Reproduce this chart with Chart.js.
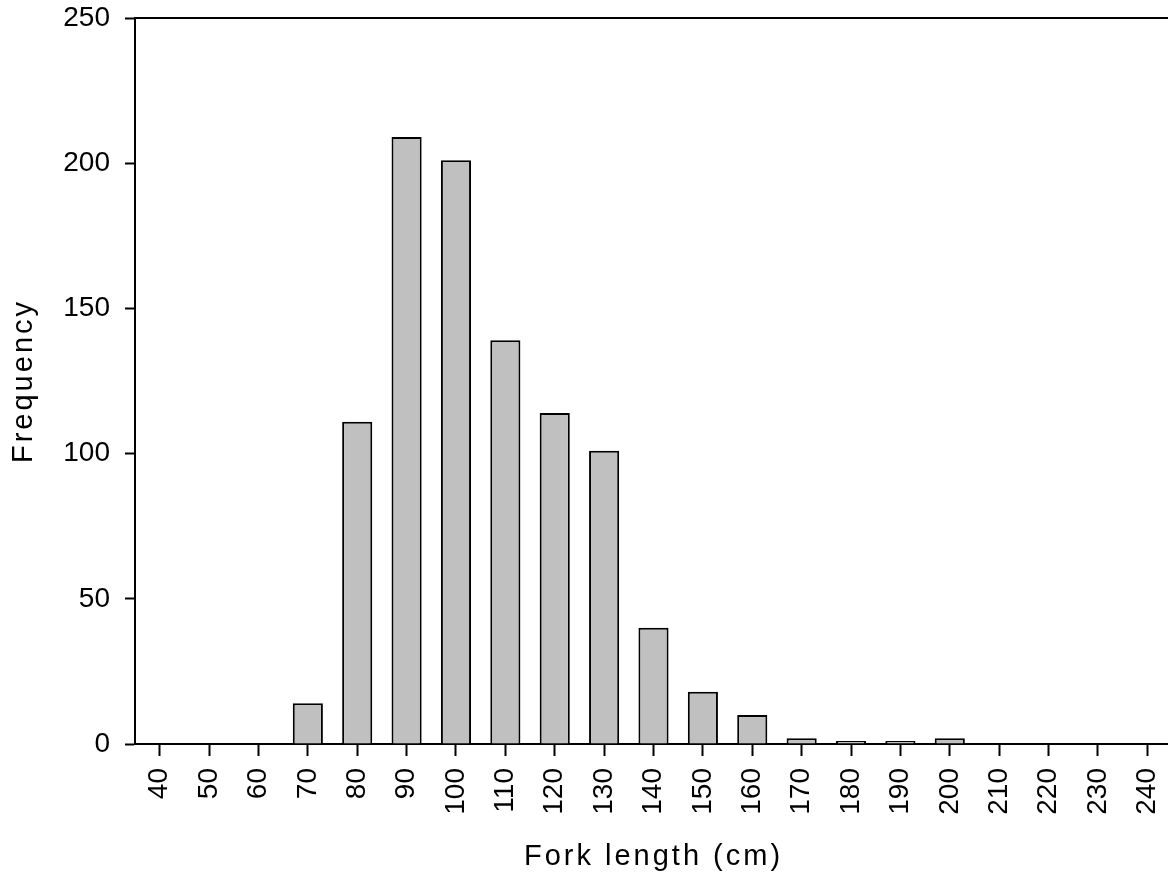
<!DOCTYPE html>
<html lang="en">
  <head>
    <meta charset="UTF-8" />
    <script src="https://cdn.jsdelivr.net/npm/chart.js"></script>
    <style>
      html, body { margin: 0; padding: 0; background: #fff; overflow: hidden; }
      #mainChart { position: relative; width: 1172px; height: 879px; }
    </style>
  </head>
  <body>
    <div id="mainChart">
      <canvas id="myChart"></canvas>
    </div>

    <script>
      const lengths = [40, 50, 60, 70, 80, 90, 100, 110, 120, 130, 140, 150, 160, 170, 180, 190, 200, 210, 220, 230, 240];
      const frequency = [0, 0, 0, 14, 111, 209, 201, 139, 114, 101, 40, 18, 10, 2, 1, 1, 2, 0, 0, 0, 0];
      const yTicks = [0, 50, 100, 150, 200, 250];

      const FONT = "'Liberation Sans', Arial, sans-serif";

      // fixed axis boxes, no extra label padding
      function fixBox(size, horizontal) {
        return (s) => {
          if (horizontal) s.height = size;
          else s.width = size;
          s.paddingLeft = s.paddingRight = s.paddingTop = s.paddingBottom = 0;
        };
      }

      // top frame line + wider letter spacing on axis titles
      const framePlugin = {
        id: "frame",
        afterUpdate(chart) {
          ["x", "y"].forEach((k) => {
            const s = chart.scales[k];
            if (s && !s._spaced) {
              const orig = s.drawTitle;
              s.drawTitle = function (...args) {
                const c = this.ctx;
                c.save();
                c.letterSpacing = "3px";
                orig.apply(this, args);
                c.restore();
              };
              s._spaced = true;
            }
          });
        },
        afterDraw(chart) {
          const { ctx, chartArea } = chart;
          ctx.save();
          ctx.strokeStyle = "#000";
          ctx.lineWidth = 2;
          ctx.beginPath();
          ctx.moveTo(chartArea.left, chartArea.top);
          ctx.lineTo(chartArea.right, chartArea.top);
          ctx.stroke();
          ctx.restore();
        },
      };

      const ctx = document.getElementById("myChart");

      const myChart = new Chart(ctx, {
        type: "bar",
        data: {
          labels: lengths.map(String),
          datasets: [
            {
              label: "Frequency",
              data: frequency,
              backgroundColor: "#c0c0c0",
              borderColor: "#000",
              borderWidth: 2,
              barPercentage: 0.61,
              categoryPercentage: 1,
            },
          ],
        },
        options: {
          responsive: true,
          maintainAspectRatio: false,
          animation: false,
          layout: { padding: { top: 18, left: 0, right: 0, bottom: 0 } },
          plugins: {
            legend: { display: false },
            tooltip: { enabled: false },
          },
          scales: {
            x: {
              offset: true,
              afterFit: fixBox(135, true),
              grid: {
                display: true,
                drawOnChartArea: false,
                drawTicks: true,
                tickLength: 12,
                tickWidth: 2,
                tickColor: "#000",
                offset: false,
              },
              border: { display: true, color: "#000", width: 2 },
              ticks: {
                color: "#000",
                font: { family: FONT, size: 28 },
                minRotation: 90,
                maxRotation: 90,
                padding: 12,
                autoSkip: false,
              },
              title: {
                display: true,
                text: "Fork length (cm)",
                color: "#000",
                font: { family: FONT, size: 29 },
                padding: { top: 0, bottom: 5 },
              },
            },
            y: {
              min: 0,
              max: 250,
              afterFit: fixBox(135, false),
              afterBuildTicks: (s) => { s.ticks = yTicks.map((v) => ({ value: v })); },
              grid: {
                display: true,
                drawOnChartArea: false,
                drawTicks: true,
                tickLength: 10,
                tickWidth: 2,
                tickColor: "#000",
              },
              border: { display: true, color: "#000", width: 2 },
              ticks: {
                color: "#000",
                font: { family: FONT, size: 28 },
                padding: 15,
              },
              title: {
                display: true,
                text: "Frequency",
                color: "#000",
                font: { family: FONT, size: 29 },
                padding: { top: 7, bottom: 0 },
              },
            },
          },
        },
        plugins: [framePlugin],
      });
    </script>
  </body>
</html>
